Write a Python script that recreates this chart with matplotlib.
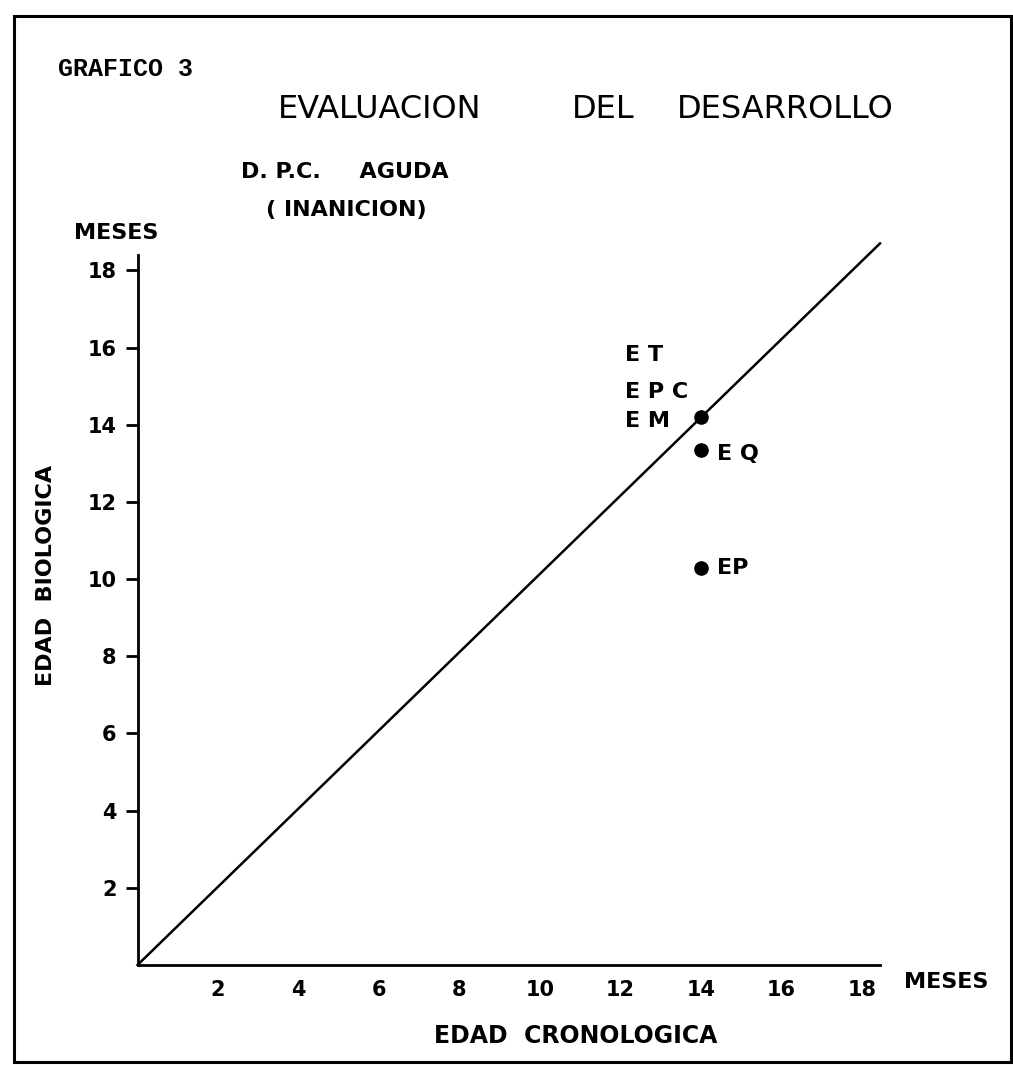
import matplotlib.pyplot as plt
from matplotlib.patches import Rectangle

# data (months)
x_ticks = [2, 4, 6, 8, 10, 12, 14, 16, 18]
y_ticks = [2, 4, 6, 8, 10, 12, 14, 16, 18]
line_x = [0, 18.45]
line_y = [0, 18.7]
pt_x = [14, 14, 14]
pt_y = [14.2, 13.35, 10.3]
lab_left = ["E T", "E P C", "E M"]
lab_left_y = [15.8, 14.85, 14.1]
lab_right = ["E Q", "EP"]
lab_right_y = [13.25, 10.3]

W, H = 1013, 1065
fig = plt.figure(figsize=(W / 100, H / 100), dpi=100)
fig.patch.set_facecolor("white")


def fx(px):
    return px / W


def fy(py):
    return 1 - py / H


ax = fig.add_axes([fx(137.5), fy(965), fx(880) - fx(137.5), fy(255) - fy(965)])
ax.set_xlim(0, 18.45)
ax.set_ylim(0, 18.4)
for s in ["top", "right"]:
    ax.spines[s].set_visible(False)
for s in ["left", "bottom"]:
    ax.spines[s].set_linewidth(2)

ax.plot(line_x, line_y, color="black", lw=1.8, clip_on=False)
ax.plot(pt_x, pt_y, "o", color="black", ms=9.5)

for t, y in zip(lab_left, lab_left_y):
    ax.text(12.12, y, t, fontsize=16, fontweight="bold", va="center", ha="left")
for t, y in zip(lab_right, lab_right_y):
    ax.text(14.4, y, t, fontsize=16, fontweight="bold", va="center", ha="left")

ax.set_xticks(x_ticks)
ax.set_yticks(y_ticks)
ax.tick_params(axis="x", length=0, pad=11, labelsize=15)
ax.tick_params(axis="y", length=9, width=2, pad=6, labelsize=15)
for lbl in ax.get_xticklabels() + ax.get_yticklabels():
    lbl.set_fontweight("bold")

# titles and axis texts
fig.text(fx(58), fy(69), "GRAFICO 3", family="Liberation Mono", fontweight="bold",
         fontsize=18, va="center", ha="left")
fig.text(fx(278), fy(110), "EVALUACION", fontsize=23, va="center", ha="left")
fig.text(fx(572), fy(110), "DEL", fontsize=23, va="center", ha="left")
fig.text(fx(677), fy(110), "DESARROLLO", fontsize=23, va="center", ha="left")
fig.text(fx(345), fy(172), "D. P.C.     AGUDA", fontsize=16, fontweight="bold",
         va="center", ha="center")
fig.text(fx(346), fy(210), "( INANICION)", fontsize=16, fontweight="bold",
         va="center", ha="center")
fig.text(fx(116), fy(233), "MESES", fontsize=16, fontweight="bold",
         va="center", ha="center")
fig.text(fx(946), fy(982), "MESES", fontsize=16, fontweight="bold",
         va="center", ha="center")
fig.text(fx(576), fy(1036), "EDAD  CRONOLOGICA", fontsize=17, fontweight="bold",
         va="center", ha="center")
fig.text(fx(46), fy(575), "EDAD  BIOLOGICA", fontsize=16, fontweight="bold",
         va="center", ha="center", rotation=90)

# scanned page frame
fig.patches.append(Rectangle((fx(14), fy(1062)), fx(1011) - fx(14), fy(16) - fy(1062),
                             transform=fig.transFigure, fill=False, lw=2.2,
                             edgecolor="black"))

fig.savefig("out.png", dpi=100)
